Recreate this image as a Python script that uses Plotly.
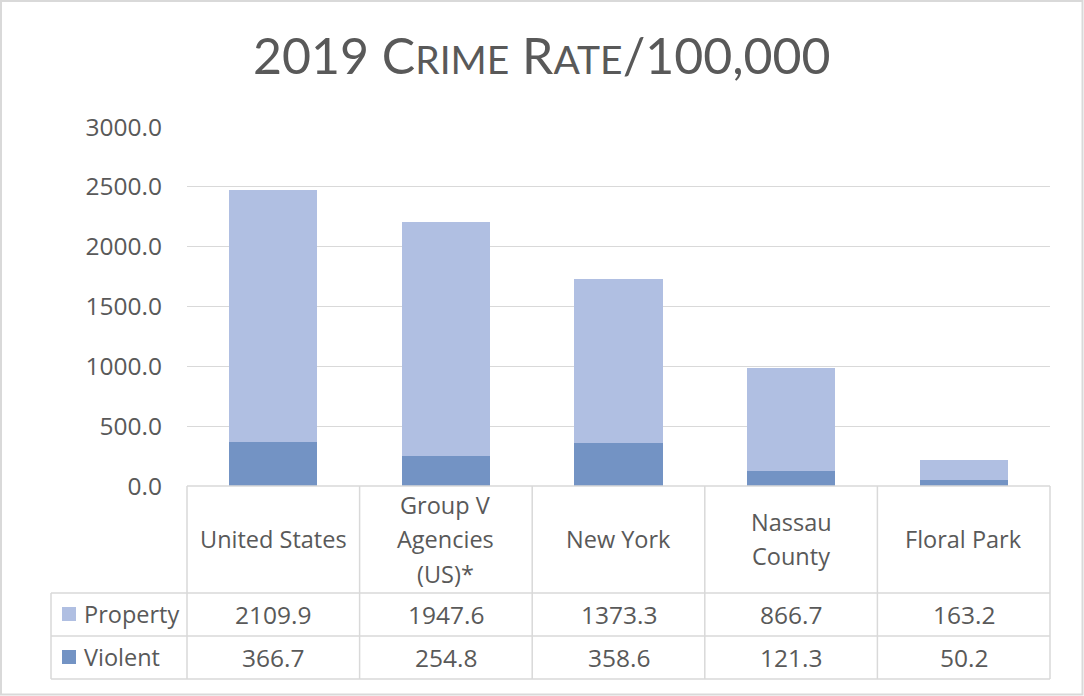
import plotly.graph_objects as go

categories = ["United States", "Group V\nAgencies\n(US)*", "New York", "Nassau\nCounty", "Floral Park"]
property_vals = [2109.9, 1947.6, 1373.3, 866.7, 163.2]
violent_vals = [366.7, 254.8, 358.6, 121.3, 50.2]
series_names = ["Property", "Violent"]
y_ticks = [0, 500, 1000, 1500, 2000, 2500, 3000]

C_PROP = "#B0BFE2"
C_VIOL = "#7393C4"
TXT = "#595959"
GRID = "#D9D9D9"
FONT = "Open Sans"

W, H = 1084, 696
L, R, T, B = 187, 1050, 127, 486

def px(x):
    return (x - L) / (R - L)

def py(y):
    return (B - y) / (B - T)

fig = go.Figure()
fig.add_trace(go.Bar(x=list(range(len(categories))), y=violent_vals, name="Violent",
                     marker=dict(color=C_VIOL, line=dict(width=0)), width=0.51))
fig.add_trace(go.Bar(x=list(range(len(categories))), y=property_vals, name="Property",
                     marker=dict(color=C_PROP, line=dict(width=0)), width=0.51))

shapes = []
annos = []
n = len(categories)
lw = 1.5
for i in range(n + 1):
    shapes.append(dict(type="line", xref="paper", yref="paper", x0=i / n, x1=i / n,
                       y0=py(486), y1=py(679), line=dict(color=GRID, width=lw)))
shapes.append(dict(type="line", xref="paper", yref="paper", x0=px(51), x1=px(51),
                   y0=py(593), y1=py(679), line=dict(color=GRID, width=lw)))
for yy, x0 in [(486, L), (593, 51), (636, 51), (679, 51)]:
    shapes.append(dict(type="line", xref="paper", yref="paper", x0=px(x0), x1=1,
                       y0=py(yy), y1=py(yy), line=dict(color=GRID, width=lw)))
shapes.append(dict(type="rect", xref="paper", yref="paper", x0=px(1), x1=px(1082.5),
                   y0=py(1), y1=py(694.5), line=dict(color=GRID, width=2)))

fs_num = 24.5
fs_txt = 23.5
for i, name in enumerate(categories):
    lines = name.split("\n")
    k = len(lines)
    for j, ln in enumerate(lines):
        yy = 539 + (j - (k - 1) / 2) * 34.5
        annos.append(dict(x=(i + 0.5) / n, y=py(yy), xref="paper", yref="paper", text=ln,
                          showarrow=False, xanchor="center", yanchor="middle",
                          font=dict(family=FONT, size=fs_txt, color=TXT)))
rows = [(property_vals, 614, C_PROP, series_names[0]), (violent_vals, 657, C_VIOL, series_names[1])]
for vals, yy, col, nm in rows:
    for i, v in enumerate(vals):
        annos.append(dict(x=(i + 0.5) / n, y=py(yy), xref="paper", yref="paper", text=f"{v:.1f}",
                          showarrow=False, xanchor="center", yanchor="middle",
                          font=dict(family=FONT, size=fs_num, color=TXT)))
    shapes.append(dict(type="rect", xref="paper", yref="paper", x0=px(62), x1=px(76),
                       y0=py(yy - 7), y1=py(yy + 7), fillcolor=col, line=dict(width=0)))
    annos.append(dict(x=px(82), y=py(yy), xref="paper", yref="paper", text=nm,
                      showarrow=False, xanchor="left", yanchor="middle",
                      font=dict(family=FONT, size=fs_txt, color=TXT)))

sc = "font-size:39px"
title = (f"2019 C<span style='{sc}'>RIME</span> R<span style='{sc}'>ATE</span>/100,000")
annos.append(dict(x=px(542), y=py(55), xref="paper", yref="paper", text=title, showarrow=False,
                  xanchor="center", yanchor="middle",
                  font=dict(family="Lato", size=50, color=TXT)))

fig.update_layout(
    width=W, height=H,
    margin=dict(l=L, r=W - R, t=T, b=H - B, pad=0),
    paper_bgcolor="white", plot_bgcolor="white",
    barmode="stack", showlegend=False,
    shapes=shapes, annotations=annos,
    xaxis=dict(range=[-0.5, n - 0.5], showticklabels=False, showgrid=False, zeroline=False,
               showline=False, ticks="", fixedrange=True),
    yaxis=dict(range=[0, 3000], tickvals=y_ticks, ticktext=[f"{v:.1f}" for v in y_ticks],
               showgrid=True, gridcolor=GRID, gridwidth=1.3, zeroline=False, showline=False,
               ticks="", ticklabelstandoff=24,
               tickfont=dict(family=FONT, size=fs_num, color=TXT)),
)

fig.write_html("out.html")
